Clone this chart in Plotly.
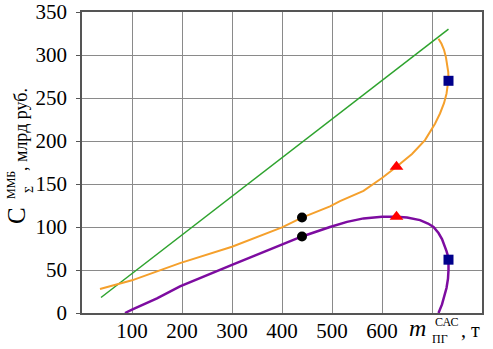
import plotly.graph_objects as go

# Green line
green_x = [38, 733]
green_y = [18, 330]

# Orange curve
orange_x = [36, 100, 196, 300, 400, 440, 496, 516, 563, 600, 629, 660, 686, 696, 706, 716, 724, 729, 732, 733, 732.5, 731, 728, 724, 719, 713]
orange_y = [28, 38, 58, 77, 99.6, 111, 124, 130, 142, 157, 170, 185, 201, 210, 220, 232, 244, 255, 265, 272, 280, 288, 297, 306, 313, 319]

# Purple curve
purple_x = [86, 100, 150, 196, 300, 400, 440, 496, 530, 563, 600, 629, 650, 676, 692, 703, 713, 720, 725, 729, 732, 733, 733, 732, 729, 725, 720, 713]
purple_y = [0, 4, 17, 31, 56, 79, 89, 100, 106, 110, 112, 112, 111, 108, 104, 100, 93, 86, 79, 72, 66, 60, 50, 40, 29, 19, 10, 0]

# Markers
circle_x = [440, 440]
circle_y = [111, 89]
tri_x = [629, 629]
tri_y = [170, 112]
sq_x = [733, 733]
sq_y = [270, 62]

xtick_vals = [0, 100, 200, 300, 400, 500, 600, 700, 800]
xtick_text = ["", "100", "200", "300", "400", "500", "600", "", ""]
ytick_vals = [0, 50, 100, 150, 200, 250, 300, 350]

FONT = "'Liberation Serif', 'DejaVu Serif', serif"
W, H = 493, 349
L, R, T, B = 82, 11, 12, 36
pw, ph = W - L - R, H - T - B

fig = go.Figure()
fig.add_trace(go.Scatter(x=green_x, y=green_y, mode="lines",
                         line=dict(color="#2ea32e", width=1.5), hoverinfo="skip"))
fig.add_trace(go.Scatter(x=orange_x, y=orange_y, mode="lines",
                         line=dict(color="#f5a02c", width=2), hoverinfo="skip"))
fig.add_trace(go.Scatter(x=purple_x, y=purple_y, mode="lines",
                         line=dict(color="#7d0ca0", width=2.5), hoverinfo="skip"))
fig.add_trace(go.Scatter(x=circle_x, y=circle_y, mode="markers",
                         marker=dict(symbol="circle", color="black", size=10)))
fig.add_trace(go.Scatter(x=tri_x, y=tri_y, mode="markers",
                         marker=dict(symbol="triangle-up", color="red", size=12)))
fig.add_trace(go.Scatter(x=sq_x, y=sq_y, mode="markers",
                         marker=dict(symbol="square", color="#00008b", size=10)))

fig.update_layout(
    width=W, height=H, autosize=False,
    margin=dict(l=L, r=R, t=T, b=B, autoexpand=False),
    paper_bgcolor="white", plot_bgcolor="white",
    showlegend=False,
    font=dict(family=FONT, size=21, color="black"),
)
fig.update_xaxes(
    range=[0, 800], tickvals=xtick_vals, ticktext=xtick_text,
    showgrid=True, gridcolor="#8a8a8a", gridwidth=1,
    showline=True, linecolor="#555", linewidth=1.5, mirror=True,
    ticks="", ticklabelstandoff=-2, automargin=False,
    tickfont=dict(family=FONT, size=21, color="black"),
    zeroline=False,
)
fig.update_yaxes(
    range=[0, 350], tickvals=ytick_vals,
    showgrid=True, gridcolor="#8a8a8a", gridwidth=1,
    showline=True, linecolor="#555", linewidth=1.5, mirror=True,
    ticks="outside", ticklen=4, tickcolor="#555", ticklabelstandoff=5,
    tickfont=dict(family=FONT, size=21, color="black"),
    automargin=False, zeroline=False,
)


def ann(px, py, text, size, angle=0):
    fig.add_annotation(
        x=(px - L) / pw, y=(H - B - py) / ph, xref="paper", yref="paper",
        xanchor="center", yanchor="middle", text=text, textangle=angle,
        showarrow=False, font=dict(family=FONT, size=size, color="black"),
    )


# y-axis title pieces (rotated)
ann(16, 216, "C", 25, -90)
ann(11, 185, "ММБ", 12, -90)
ann(29, 190, "Σ", 12, -90)
ann(21, 130, ", млрд руб.", 18, -90)

# x-axis label pieces
ann(417, 328, "<i>m</i>", 24)
ann(446, 322, "САС", 12)
ann(440, 339, "ПГ", 12)
ann(470, 330, ", т", 20)

fig.write_html("out.html", config={"displayModeBar": False, "responsive": False})
with open("out.html", "r", encoding="utf-8") as f:
    html = f.read()
html = html.replace("<head>", "<head><style>html,body{margin:0;padding:0;overflow:hidden}</style>", 1)
with open("out.html", "w", encoding="utf-8") as f:
    f.write(html)
